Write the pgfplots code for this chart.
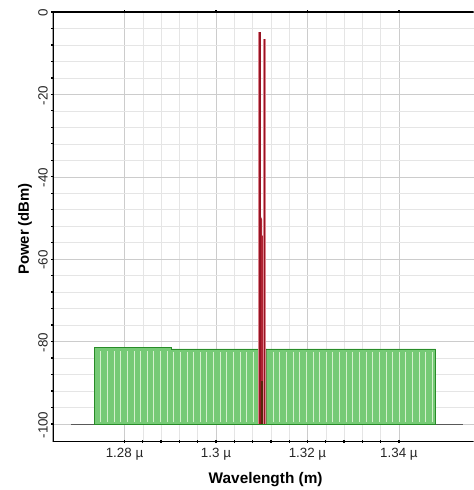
\documentclass[border=0pt]{standalone}
\usepackage{pgfplots}
\pgfplotsset{compat=1.18}
\usepackage{fontspec}
\setmainfont{Liberation Sans}
\definecolor{gfill}{RGB}{118,202,118}
\definecolor{gline}{RGB}{40,140,40}
\definecolor{gstripe}{RGB}{212,240,205}
\definecolor{rpink}{RGB}{220,130,140}
\definecolor{rdark}{RGB}{150,20,35}
\definecolor{rfill}{RGB}{175,35,50}
\definecolor{dbrown}{RGB}{85,40,10}
\begin{document}
\begin{tikzpicture}
\begin{axis}[
  scale only axis, width=423bp, height=432bp,
  xmin=1.2643, xmax=1.3563, ymin=-104.3, ymax=0,
  axis line style={draw=none},
  xtick={1.28,1.30,1.32,1.34},
  xticklabels={1.28 µ,1.3 µ,1.32 µ,1.34 µ},
  ytick={-100,-80,-60,-40,-20,0},
  minor x tick num=4, minor y tick num=4,
  grid=both,
  major grid style={gray!40, line width=0.5bp},
  minor grid style={gray!20, line width=0.5bp},
  tick style={black, line width=1.3bp},
  major tick length=3bp, minor tick length=2.5bp, tick align=center,
  xtick pos=both, ytick pos=left,
  xticklabel pos=bottom,
  ticklabel style={font=\fontsize{13.5}{15}\selectfont, text=black!85},
  yticklabel style={rotate=90, anchor=south, xshift=-1bp},
  xticklabel style={yshift=-1bp},
  /pgf/number format/assume math mode=true,
  xlabel={Wavelength (m)}, ylabel={Power (dBm)},
  xlabel style={at={(axis description cs:0.506,-0.088)}, anchor=center, font=\bfseries\fontsize{15.5}{17}\selectfont},
  ylabel style={at={(axis description cs:-0.066,0.495)}, anchor=center, font=\bfseries\fontsize{15}{17}\selectfont},
  unbounded coords=jump,
]
% green spectrum block
\addplot[draw=gline, line width=0.8bp, fill=gfill] coordinates {
 (1.2734,-100) (1.2734,-81.4) (1.2902,-81.4) (1.2902,-81.8) (1.3480,-81.8) (1.3480,-100)
} -- cycle;
% light stripes inside the block
\addplot[gstripe, line width=0.8bp] coordinates {
(1.27480,-99.6)(1.27480,-82.2)(1.27480,nan)
(1.27625,-99.6)(1.27625,-82.2)(1.27625,nan)
(1.27770,-99.6)(1.27770,-82.2)(1.27770,nan)
(1.27915,-99.6)(1.27915,-82.2)(1.27915,nan)
(1.28060,-99.6)(1.28060,-82.2)(1.28060,nan)
(1.28205,-99.6)(1.28205,-82.2)(1.28205,nan)
(1.28350,-99.6)(1.28350,-82.2)(1.28350,nan)
(1.28495,-99.6)(1.28495,-82.2)(1.28495,nan)
(1.28640,-99.6)(1.28640,-82.2)(1.28640,nan)
(1.28785,-99.6)(1.28785,-82.2)(1.28785,nan)
(1.28930,-99.6)(1.28930,-82.2)(1.28930,nan)
(1.29075,-99.6)(1.29075,-82.6)(1.29075,nan)
(1.29220,-99.6)(1.29220,-82.6)(1.29220,nan)
(1.29365,-99.6)(1.29365,-82.6)(1.29365,nan)
(1.29510,-99.6)(1.29510,-82.6)(1.29510,nan)
(1.29655,-99.6)(1.29655,-82.6)(1.29655,nan)
(1.29800,-99.6)(1.29800,-82.6)(1.29800,nan)
(1.29945,-99.6)(1.29945,-82.6)(1.29945,nan)
(1.30090,-99.6)(1.30090,-82.6)(1.30090,nan)
(1.30235,-99.6)(1.30235,-82.6)(1.30235,nan)
(1.30380,-99.6)(1.30380,-82.6)(1.30380,nan)
(1.30525,-99.6)(1.30525,-82.6)(1.30525,nan)
(1.30670,-99.6)(1.30670,-82.6)(1.30670,nan)
(1.30815,-99.6)(1.30815,-82.6)(1.30815,nan)
(1.31250,-99.6)(1.31250,-82.6)(1.31250,nan)
(1.31395,-99.6)(1.31395,-82.6)(1.31395,nan)
(1.31540,-99.6)(1.31540,-82.6)(1.31540,nan)
(1.31685,-99.6)(1.31685,-82.6)(1.31685,nan)
(1.31830,-99.6)(1.31830,-82.6)(1.31830,nan)
(1.31975,-99.6)(1.31975,-82.6)(1.31975,nan)
(1.32120,-99.6)(1.32120,-82.6)(1.32120,nan)
(1.32265,-99.6)(1.32265,-82.6)(1.32265,nan)
(1.32410,-99.6)(1.32410,-82.6)(1.32410,nan)
(1.32555,-99.6)(1.32555,-82.6)(1.32555,nan)
(1.32700,-99.6)(1.32700,-82.6)(1.32700,nan)
(1.32845,-99.6)(1.32845,-82.6)(1.32845,nan)
(1.32990,-99.6)(1.32990,-82.6)(1.32990,nan)
(1.33135,-99.6)(1.33135,-82.6)(1.33135,nan)
(1.33280,-99.6)(1.33280,-82.6)(1.33280,nan)
(1.33425,-99.6)(1.33425,-82.6)(1.33425,nan)
(1.33570,-99.6)(1.33570,-82.6)(1.33570,nan)
(1.33715,-99.6)(1.33715,-82.6)(1.33715,nan)
(1.33860,-99.6)(1.33860,-82.6)(1.33860,nan)
(1.34005,-99.6)(1.34005,-82.6)(1.34005,nan)
(1.34150,-99.6)(1.34150,-82.6)(1.34150,nan)
(1.34295,-99.6)(1.34295,-82.6)(1.34295,nan)
(1.34440,-99.6)(1.34440,-82.6)(1.34440,nan)
(1.34585,-99.6)(1.34585,-82.6)(1.34585,nan)
(1.34730,-99.6)(1.34730,-82.6)(1.34730,nan)
};
% noise floor baseline
\addplot[gray!70!black, line width=0.8bp] coordinates {
 (1.2684,-100) (1.2734,-100) (1.2734,nan) (1.3480,nan) (1.3480,-100) (1.3539,-100)
};
% red channel region
\addplot[draw=none, fill=rfill] coordinates {
 (1.3095,-100) (1.3095,-48.6) (1.3101,-50.5) (1.3101,-54.3) (1.3107,-54.3) (1.3107,-100)
} -- cycle;
\addplot[draw=none, fill=dbrown] coordinates {
 (1.3092,-100) (1.3092,-89.6) (1.3104,-89.6) (1.3104,-81.8) (1.3110,-81.8) (1.3110,-100)
} -- cycle;
% two laser peaks
\addplot[rpink, line width=3bp] coordinates {
 (1.3096,-100) (1.3096,-4.8) (1.3096,nan) (1.3106,nan) (1.3106,-100) (1.3106,-6.5)
};
\addplot[rdark, line width=1.3bp] coordinates {
 (1.3096,-100) (1.3096,-4.8) (1.3096,nan) (1.3106,nan) (1.3106,-100) (1.3106,-6.5)
};
% spines
\draw[black, line width=1.6bp] (rel axis cs:0,1) -- (rel axis cs:1,1);
\draw[black, line width=1.6bp] (rel axis cs:0,0) -- (rel axis cs:1,0);
\draw[black, line width=1.6bp] (rel axis cs:0,0) -- (rel axis cs:0,1);
\end{axis}
\path ([xshift=-53bp,yshift=-46bp]current axis.south west) rectangle ([yshift=12bp]current axis.north east);
\end{tikzpicture}
\end{document}
